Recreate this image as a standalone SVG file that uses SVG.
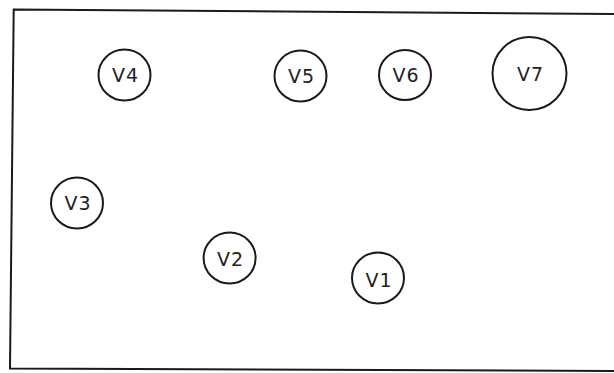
<svg xmlns="http://www.w3.org/2000/svg" width="614" height="373" viewBox="0 0 614 373">
<style>
.n ellipse{fill:none;stroke:#1a1a1a;stroke-width:2}
.n text{font-family:"DejaVu Sans",sans-serif;font-size:19px;fill:#222;text-anchor:middle;dominant-baseline:central;letter-spacing:1px}
.frame{fill:none;stroke:#1a1a1a;stroke-width:2}
</style>
<rect width="614" height="373" fill="#fff"/>
<path class="frame" d="M614,14 L13.7,9.5 L10,368.5 L614,371"/>
<g id="V4" class="n"><ellipse cx="124.5" cy="75" rx="26" ry="25.5"/><text x="125.5" y="75">V4</text></g>
<g id="V5" class="n"><ellipse cx="300.5" cy="76" rx="26" ry="25.5"/><text x="301.5" y="76">V5</text></g>
<g id="V6" class="n"><ellipse cx="405" cy="75" rx="26" ry="25"/><text x="406" y="75">V6</text></g>
<g id="V7" class="n"><ellipse cx="529.5" cy="73.5" rx="37" ry="36.5"/><text x="530.5" y="74">V7</text></g>
<g id="V3" class="n"><ellipse cx="77" cy="203" rx="26" ry="25.5"/><text x="78" y="203">V3</text></g>
<g id="V2" class="n"><ellipse cx="229.6" cy="258" rx="26" ry="25.5"/><text x="230.6" y="259">V2</text></g>
<g id="V1" class="n"><ellipse cx="378" cy="278" rx="26" ry="25.5"/><text x="379" y="280">V1</text></g>
<g id="connectors"></g>
</svg>
